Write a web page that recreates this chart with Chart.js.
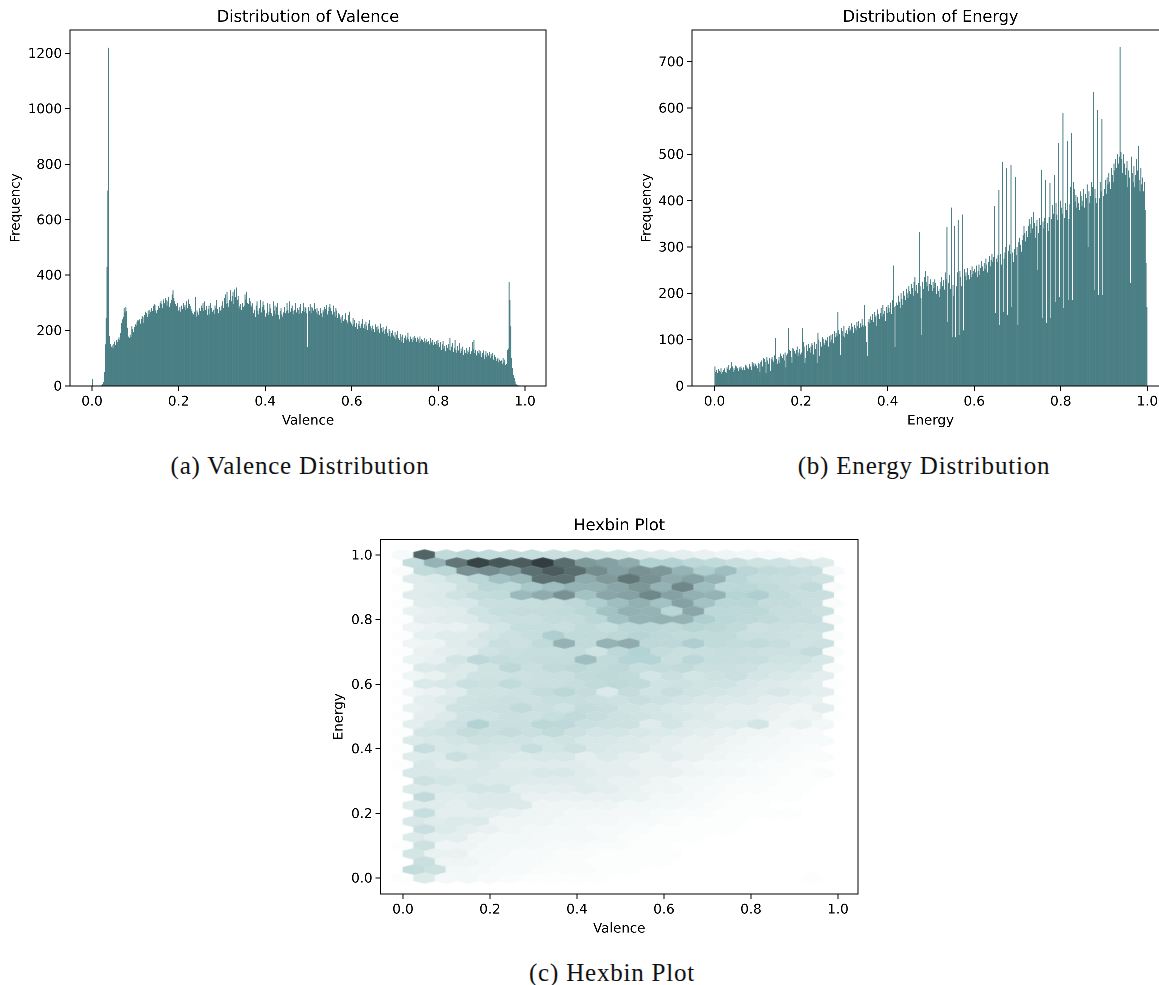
<!DOCTYPE html>
<html><head><meta charset="utf-8">
<script src="https://cdn.jsdelivr.net/npm/chart.js@4"></script>
<style>
html,body{margin:0;padding:0;background:#fff;width:1159px;height:985px;overflow:hidden}
canvas{position:absolute;display:block}
.cap{position:absolute;font:25px "Liberation Serif",serif;color:#111;white-space:nowrap;transform:translate(-50%,-50%);letter-spacing:.8px}
</style></head><body>
<canvas id="a" width="560" height="435" style="left:0;top:0"></canvas>
<canvas id="b" width="560" height="435" style="left:625px;top:0"></canvas>
<canvas id="c" width="560" height="430" style="left:320px;top:515px"></canvas>
<div class="cap" style="left:300px;top:466px">(a) Valence Distribution</div>
<div class="cap" style="left:924px;top:466px">(b) Energy Distribution</div>
<div class="cap" style="left:612px;top:973px">(c) Hexbin Plot</div>
<script>
const valenceBinWidth = 0.00198;
const valenceCounts = [
26,0,0,0,0,0,0,0,0,0,0,3,6,15,50,150,245,430,705,1220,
180,152,140,146,136,152,160,148,165,158,170,175,165,190,228,240,250,282,265,285,
270,210,178,172,185,176,215,205,195,212,
222,218,232,238,236,240,225,242,252,248,228,255,268,262,248,272,258,275,266,282,
270,288,296,292,272,262,275,288,282,300,306,295,280,312,298,318,310,290,305,322,
285,298,310,330,345,318,305,295,288,300,
270,275,285,268,290,278,300,284,292,275,305,280,312,296,288,278,270,262,258,268,
320,250,272,265,255,280,270,290,282,298,270,305,275,288,255,278,290,258,300,282,
268,275,260,290,280,310,278,262,285,270,
275,290,305,282,318,330,295,340,300,285,310,345,305,325,340,295,348,320,355,310,
325,280,288,295,275,300,285,290,330,312,340,300,295,318,305,290,285,298,262,275,
248,290,305,272,258,280,310,265,285,305,
292,275,250,262,300,255,268,295,280,262,252,305,272,290,258,285,300,255,240,270,
280,258,250,265,285,262,270,300,275,262,305,268,282,290,270,258,275,300,265,282,
275,260,285,295,262,270,300,268,285,280,
262,140,285,270,296,262,285,280,272,300,278,265,282,258,270,255,280,262,248,275,
268,285,278,292,258,270,285,295,280,270,258,290,268,250,282,272,245,262,258,240,
250,228,255,235,240,262,238,232,225,255,
268,232,225,215,245,222,238,212,228,205,222,235,215,208,225,242,210,222,205,232,
218,202,225,238,215,208,200,218,205,195,222,212,200,215,205,192,225,208,195,212,
200,188,205,215,192,180,205,198,178,190,
200,182,175,195,168,185,198,172,165,188,160,178,185,155,172,182,165,175,192,168,
160,178,170,158,175,165,180,172,160,175,168,155,178,162,170,165,158,172,162,155,
168,158,162,150,172,160,155,165,148,158,
152,162,148,165,155,140,158,130,150,162,135,145,125,148,138,152,130,172,128,142,
155,122,138,165,130,120,145,128,155,118,135,125,142,112,130,120,138,115,128,122,
140,115,125,158,132,165,118,130,110,125,
120,130,115,125,105,118,128,98,112,125,105,118,110,122,100,115,108,120,95,112,
105,90,98,102,85,95,90,92,78,100,85,95,75,80,130,135,375,310,215,100,
65,40,28,16,8,5,3,1,1,0];

const energyBinWidth = 0.002;
const energyCounts = [
42,30,35,28,36,33,30,38,26,30,34,38,30,28,40,36,45,34,38,52,
42,30,38,35,44,42,38,32,40,36,42,38,35,40,34,46,44,40,38,36,
48,42,35,52,46,50,42,48,44,38,
50,48,36,52,55,42,60,58,52,50,62,55,48,60,32,58,62,55,52,66,
60,58,48,55,62,50,70,65,60,68,55,72,58,66,70,48,78,75,62,50,
82,80,75,70,78,85,65,72,80,68,
72,78,95,85,70,60,88,75,90,82,72,85,92,88,68,95,80,90,88,75,
100,65,95,85,105,102,92,88,100,98,105,85,108,95,110,100,112,92,118,105,
115,108,100,120,112,105,125,118,108,130,
105,115,120,112,125,130,118,122,135,128,115,132,125,120,138,130,140,125,135,128,
145,132,128,140,130,95,150,138,145,135,150,142,155,138,160,148,152,130,165,155,
145,158,168,150,175,155,162,140,170,158,
175,168,160,180,155,185,178,170,190,172,180,175,195,182,168,200,188,175,205,195,
185,210,200,190,215,205,198,220,212,195,225,210,205,218,200,222,228,215,190,232,
225,210,235,248,225,215,238,205,220,230,
218,205,225,212,230,222,198,215,205,192,210,225,235,215,228,208,245,230,215,238,
222,240,210,230,245,218,195,235,225,215,245,232,222,248,235,215,240,225,252,238,
245,228,255,240,230,250,235,258,242,248,
252,245,260,235,248,262,240,255,270,258,248,265,252,275,262,245,268,280,258,272,
285,268,278,262,290,275,268,282,295,272,285,262,280,295,275,288,300,282,270,292,
305,285,275,298,288,268,295,310,282,300,
295,310,320,305,290,315,325,345,330,312,335,322,345,360,350,330,365,340,375,352,
320,345,358,340,330,362,348,335,325,355,340,362,370,345,352,335,365,378,348,360,
390,372,355,385,395,370,358,382,375,400,
385,372,398,388,362,395,380,405,375,360,392,430,418,405,440,425,398,412,385,408,
395,380,420,410,388,400,425,385,415,405,435,450,420,395,410,440,430,460,475,425,
405,395,430,415,405,440,420,445,432,410,
425,445,415,450,435,460,440,425,470,455,440,480,465,490,470,500,480,495,470,505,
490,460,500,480,455,470,485,430,465,450,480,495,460,440,475,430,455,490,465,500,
445,420,470,435,450,420,440,380,265,170];
const energyPeakBins = [70,85,101,119,142,173,206,231,236,268,273,277,281,286,323,328,332,337,342,347,377,382,387,392,397,402,407,412,437,442,447,468,489];
const energyPeakCounts = [103,125,125,115,160,175,260,235,332,343,385,345,358,370,388,423,484,470,477,451,466,445,438,455,524,589,529,546,635,596,576,732,518];
const energyDipBins = [52,59,82,104,118,145,176,208,239,269,274,278,282,287,324,329,333,338,343,350,373,378,383,388,393,398,403,408,413,431,438,443,448,480];
const energyDipCounts = [30,28,40,50,50,67,65,84,110,138,105,105,110,120,157,131,160,153,170,131,250,147,136,147,181,192,168,186,186,300,207,196,196,222];

const tickLabelsX = [0,0.2,0.4,0.6,0.8,1.0];
const hexColStep = 0.0495, hexRowStep = 0.025;
// rows from y=1.000 down to y=0.000; even rows start at x=0, odd rows at half a step
const hexRows = [
[3,85,30,35,30,28,27,25,22,20,18,14,12,10,8,6,5,3,2,1,0],
[28,55,78,97,90,88,99,82,65,62,58,40,40,32,30,25,20,20,16,12],
[2,30,35,68,70,65,80,88,82,70,62,68,66,55,42,50,35,30,28,25,3],
[12,15,22,35,48,52,80,80,58,65,78,68,58,62,55,35,28,26,24,20],
[1,12,14,22,34,33,45,50,55,55,60,66,55,72,50,32,34,30,26,30,2],
[12,14,20,28,30,52,58,68,48,60,62,72,62,56,55,38,42,30,25,25],
[1,12,14,16,24,25,26,28,32,42,50,56,48,62,48,35,35,28,28,24,2],
[8,10,12,20,26,28,28,30,35,48,56,55,35,60,33,32,33,26,26,22],
[1,10,12,14,20,24,24,28,28,34,48,55,56,55,42,34,33,30,26,26,2],
[6,8,8,12,18,26,26,24,30,26,34,35,32,36,34,30,22,24,22,22],
[1,9,12,12,18,22,26,42,30,30,32,36,32,30,30,30,24,24,22,20,2],
[6,7,12,16,24,22,30,55,30,55,58,32,32,42,30,28,30,26,20,22],
[1,8,10,12,20,24,26,26,28,20,32,40,28,24,25,26,24,22,22,28,2],
[7,9,18,32,28,26,28,28,50,30,38,38,24,34,26,26,25,20,20,16],
[1,14,16,14,20,32,24,30,32,30,32,26,28,30,24,24,22,18,18,16,2],
[6,8,14,20,20,22,24,24,30,32,30,18,24,18,22,24,18,16,14,10],
[1,15,16,24,22,30,24,24,26,30,32,30,20,22,20,20,16,14,12,10,1],
[6,8,12,20,20,22,28,34,28,15,28,20,26,20,18,16,14,16,12,10],
[1,10,14,20,22,24,22,26,26,24,22,26,22,18,16,14,14,10,10,8,1],
[8,10,20,22,24,30,24,20,28,26,20,18,16,14,12,10,10,8,6,10],
[1,10,14,20,20,24,22,26,30,26,22,20,18,16,14,10,10,8,6,6,1],
[10,16,22,40,24,24,34,32,24,22,22,12,18,12,12,12,18,6,8,5],
[1,18,20,28,24,28,24,30,22,18,18,16,14,12,10,8,6,6,4,3,0],
[14,16,18,22,20,20,18,20,16,16,14,12,10,8,8,6,5,4,3,3],
[1,26,16,16,18,18,26,18,22,16,14,14,10,8,8,6,5,4,3,2,0],
[12,14,24,18,16,14,16,16,10,14,10,8,10,8,6,5,4,3,2,2],
[1,16,12,14,16,12,12,12,12,10,10,8,8,6,5,4,3,2,2,1,0],
[16,16,16,16,14,14,16,16,12,10,10,8,8,6,5,4,3,2,1,2],
[0,22,18,16,14,14,12,12,12,10,8,8,6,5,4,3,2,2,1,1,0],
[14,14,14,18,18,10,10,10,12,10,8,6,6,4,3,2,2,1,1,0],
[0,30,12,12,14,14,8,8,8,8,8,7,5,4,3,2,1,1,1,0,0],
[12,12,10,14,14,14,6,6,6,6,5,5,4,3,2,1,1,0,0,0],
[0,26,10,10,10,8,6,6,5,5,4,4,3,2,2,1,1,1,1,0,0],
[16,12,14,14,6,6,6,5,4,4,3,3,2,1,1,1,0,0,0,0],
[0,24,14,10,8,6,5,4,4,3,3,2,1,1,1,1,0,0,0,0,0],
[14,10,10,6,5,5,4,4,4,3,2,1,1,1,0,0,0,0,0,0],
[1,22,6,6,5,5,4,3,3,2,2,1,1,0,0,0,0,0,0,0,0],
[18,8,8,5,4,3,3,2,2,1,1,1,1,0,0,0,0,0,0,0],
[0,24,6,6,4,3,3,2,2,1,1,1,1,0,0,0,0,0,0,0,0],
[28,22,5,4,3,3,2,2,2,1,1,0,0,0,0,0,0,0,0,0],
[1,14,4,5,3,2,1,1,1,1,0,0,0,0,0,0,0,0,0,1,0]
];

const BAR = '#4a7f85';
const FONT = '"DejaVu Sans"';
const colorStops = [[255,255,255],[228,238,238],[208,227,227],[193,218,218],[178,210,212],[158,190,192],[139,166,168],[116,140,142],[93,113,115],[72,87,89],[47,58,60]];
function colorFor(v){
  const t=Math.min(v,100)/10, i=Math.min(Math.floor(t),9), f=t-i, a=colorStops[i], b=colorStops[i+1];
  return `rgb(${a.map((c,k)=>Math.round(c+(b[k]-c)*f)).join(',')})`;
}
const hexCache={};
function hexSprite(v){
  if(hexCache[v]) return hexCache[v];
  const s=document.createElement('canvas'); s.width=26; s.height=16;
  const g=s.getContext('2d'), hw=11.2, tip=5.8, sh=3.0, cx=13, cy=8;
  g.fillStyle=colorFor(v); g.beginPath();
  [[hw,-sh],[hw,sh],[0,tip],[-hw,sh],[-hw,-sh],[0,-tip]].forEach((p,i)=>i?g.lineTo(cx+p[0],cy+p[1]):g.moveTo(cx+p[0],cy+p[1]));
  g.closePath(); g.fill();
  hexCache[v]=s; return s;
}
const frame={id:'frame',afterDatasetsDraw(ch){const {ctx,chartArea:r}=ch;ctx.save();ctx.strokeStyle='#000';ctx.lineWidth=1;
  ctx.strokeRect(r.left,r.top,r.right-r.left,r.bottom-r.top);ctx.restore();}};

function makeChart(id,cfg){
  const el=document.getElementById(id), H=el.height, W=el.width;
  new Chart(el,{
    type:cfg.type, plugins:[frame],
    data:{datasets:[cfg.dataset]},
    options:{
      responsive:false, animation:false, events:[], devicePixelRatio:4,
      layout:{padding:{left:0,top:0,bottom:0,right:W-cfg.box.right}},
      plugins:{legend:{display:false},tooltip:{enabled:false},
        title:{display:true,fullSize:false,text:cfg.title,color:'#000',font:{family:FONT,size:16.08,weight:'normal',lineHeight:1.2},
          padding:{top:cfg.box.titleTop,bottom:cfg.box.top-19.3-cfg.box.titleTop}}},
      scales:{
        x:{type:'linear',offset:false,min:cfg.x[0],max:cfg.x[1],
          title:{display:true,text:cfg.xLabel,color:'#000',font:{family:FONT,size:13.4},padding:{top:0,bottom:H-cfg.box.bottom-43}},
          grid:{offset:false,drawOnChartArea:false,drawTicks:true,tickLength:5,tickColor:'#000'},border:{display:false},
          ticks:{color:'#000',font:{family:FONT,size:13.4},padding:3,stepSize:0.2,includeBounds:false,maxRotation:0,autoSkip:false,
            callback:v=>tickLabelsX.some(t=>Math.abs(t-v)<1e-6)?Number(v).toFixed(1):''},
          afterFit(s){s.height=H-cfg.box.bottom;}},
        y:{type:'linear',min:cfg.y[0],max:cfg.y[1],
          title:{display:true,text:cfg.yLabel,color:'#000',font:{family:FONT,size:13.4},padding:{top:cfg.box.yTitle-8,bottom:0}},
          grid:{drawOnChartArea:false,drawTicks:true,tickLength:5,tickColor:'#000'},border:{display:false},
          ticks:{color:'#000',font:{family:FONT,size:13.4},padding:3,labelOffset:1,stepSize:cfg.yStep,includeBounds:false,autoSkip:false,
            callback:v=>cfg.yStep<1?Number(v).toFixed(1):String(v)},
          afterFit(s){s.width=cfg.box.left;}}
      }
    }
  });
}
function histDataset(counts,w){
  return {data:counts.map((c,i)=>({x:(i+0.5)*w,y:c})),backgroundColor:BAR,borderWidth:0,barPercentage:1,categoryPercentage:1,inflateAmount:0.06};
}
const energyFinal=energyCounts.slice();
energyDipBins.forEach((b,i)=>energyFinal[b]=energyDipCounts[i]);
energyPeakBins.forEach((b,i)=>energyFinal[b]=energyPeakCounts[i]);

makeChart('a',{type:'bar',title:'Distribution of Valence',xLabel:'Valence',yLabel:'Frequency',
  box:{left:70,right:546,top:30,bottom:386,yTitle:16,titleTop:8},x:[-0.0508,1.0485],y:[0,1284],yStep:200,
  dataset:histDataset(valenceCounts,valenceBinWidth)});
makeChart('b',{type:'bar',title:'Distribution of Energy',xLabel:'Energy',yLabel:'Frequency',
  box:{left:67,right:544,top:30,bottom:386,yTitle:22,titleTop:8},x:[-0.052,1.05],y:[0,768.5],yStep:100,
  dataset:histDataset(energyFinal,energyBinWidth)});

const hexPts=[];
hexRows.forEach((row,r)=>row.forEach((v,c)=>{
  if(v>0) hexPts.push({x:(c+(r%2?0.5:0))*hexColStep,y:1-r*hexRowStep,v});
}));
makeChart('c',{type:'scatter',title:'Hexbin Plot',xLabel:'Valence',yLabel:'Energy',
  box:{left:60.5,right:538,top:24.5,bottom:379,yTitle:19,titleTop:1.4},x:[-0.0517,1.046],y:[-0.0495,1.048],yStep:0.2,
  dataset:{data:hexPts,pointRadius:6,pointBorderWidth:0,showLine:false,
    pointStyle:ctx=>hexSprite(hexPts[ctx.dataIndex]?hexPts[ctx.dataIndex].v:1)}});
</script>
</body></html>
